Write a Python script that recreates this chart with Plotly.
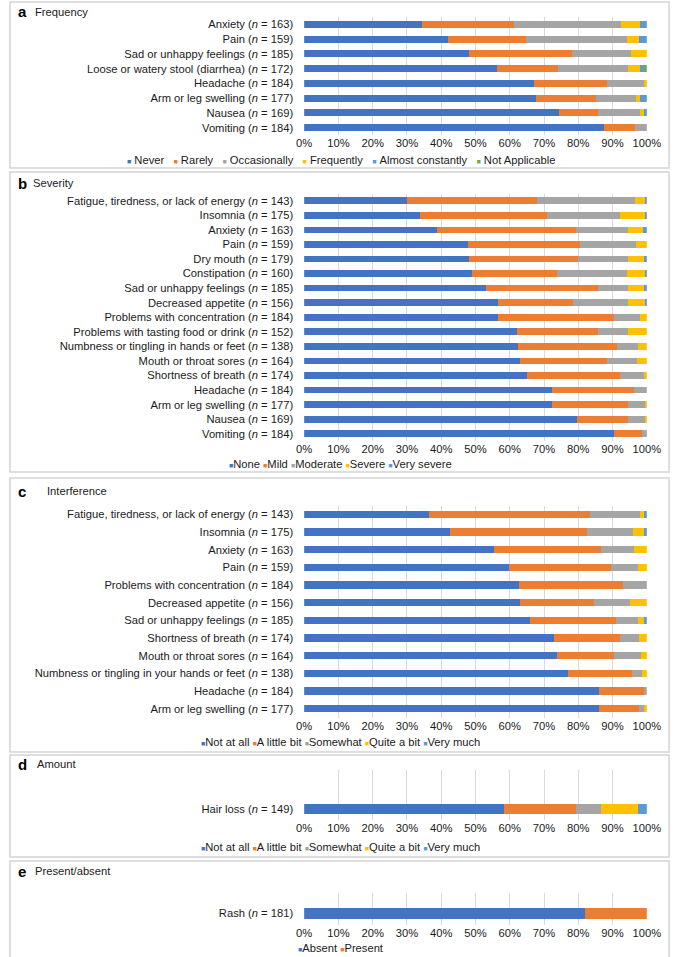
import plotly.graph_objects as go

W, H = 685, 957

# ---- data (percent of respondents) ----
freq_items = ["Anxiety (<i>n</i> = 163)", "Pain (<i>n</i> = 159)", "Sad or unhappy feelings (<i>n</i> = 185)",
              "Loose or watery stool (diarrhea) (<i>n</i> = 172)", "Headache (<i>n</i> = 184)",
              "Arm or leg swelling (<i>n</i> = 177)", "Nausea (<i>n</i> = 169)", "Vomiting (<i>n</i> = 184)"]
freq_levels = ["Never", "Rarely", "Occasionally", "Frequently", "Almost constantly", "Not Applicable"]
freq_never = [34.3, 42.0, 48.0, 56.3, 67.2, 67.7, 74.4, 87.4]
freq_rarely = [26.9, 22.7, 30.3, 17.9, 21.3, 17.5, 11.4, 9.2]
freq_occasionally = [31.4, 29.6, 17.2, 20.4, 10.8, 11.7, 12.2, 3.4]
freq_frequently = [5.4, 3.5, 4.5, 3.4, 0.7, 1.2, 1.2, 0]
freq_almost = [2.0, 2.2, 0, 1.2, 0, 1.9, 0.8, 0]
freq_na = [0, 0, 0, 0.8, 0, 0, 0, 0]

sev_items = ["Fatigue, tiredness, or lack of energy (<i>n</i> = 143)", "Insomnia (<i>n</i> = 175)",
             "Anxiety (<i>n</i> = 163)", "Pain (<i>n</i> = 159)", "Dry mouth (<i>n</i> = 179)",
             "Constipation (<i>n</i> = 160)", "Sad or unhappy feelings (<i>n</i> = 185)",
             "Decreased appetite (<i>n</i> = 156)", "Problems with concentration (<i>n</i> = 184)",
             "Problems with tasting food or drink (<i>n</i> = 152)",
             "Numbness or tingling in hands or feet (<i>n</i> = 138)", "Mouth or throat sores (<i>n</i> = 164)",
             "Shortness of breath (<i>n</i> = 174)", "Headache (<i>n</i> = 184)",
             "Arm or leg swelling (<i>n</i> = 177)", "Nausea (<i>n</i> = 169)", "Vomiting (<i>n</i> = 184)"]
sev_levels = ["None", "Mild", "Moderate", "Severe", "Very severe"]
sev_none = [30.0, 33.7, 38.7, 47.9, 48.0, 48.9, 53.0, 56.5, 56.7, 62.0, 62.5, 63.0, 65.1, 72.4, 72.4, 79.5, 90.3]
sev_mild = [37.9, 37.3, 40.6, 32.6, 32.0, 24.9, 32.7, 21.9, 33.6, 23.8, 28.9, 25.5, 27.0, 24.0, 22.2, 14.9, 8.3]
sev_moderate = [28.8, 21.3, 15.3, 16.4, 14.6, 20.3, 8.7, 16.0, 7.7, 8.6, 5.9, 8.6, 7.1, 3.6, 5.1, 5.3, 1.4]
sev_severe = [2.7, 7.4, 4.3, 3.1, 4.6, 5.5, 4.8, 5.2, 2.0, 5.6, 2.7, 2.9, 0.8, 0, 0.3, 0.3, 0]
sev_very = [0.6, 0.3, 1.1, 0, 0.8, 0.4, 0.8, 0.4, 0, 0, 0, 0, 0, 0, 0, 0, 0]

int_items = ["Fatigue, tiredness, or lack of energy (<i>n</i> = 143)", "Insomnia (<i>n</i> = 175)",
             "Anxiety (<i>n</i> = 163)", "Pain (<i>n</i> = 159)", "Problems with concentration (<i>n</i> = 184)",
             "Decreased appetite (<i>n</i> = 156)", "Sad or unhappy feelings (<i>n</i> = 185)",
             "Shortness of breath (<i>n</i> = 174)", "Mouth or throat sores (<i>n</i> = 164)",
             "Numbness or tingling in your hands or feet (<i>n</i> = 138)", "Headache (<i>n</i> = 184)",
             "Arm or leg swelling (<i>n</i> = 177)"]
int_levels = ["Not at all", "A little bit", "Somewhat", "Quite a bit", "Very much"]
int_not = [36.3, 42.7, 55.4, 59.7, 62.6, 63.0, 65.9, 73.0, 73.8, 76.9, 86.1, 86.1]
int_little = [47.0, 39.7, 31.3, 29.8, 30.4, 21.7, 25.0, 19.1, 16.5, 18.9, 13.1, 11.7]
int_somewhat = [14.7, 13.6, 9.7, 8.0, 7.0, 10.4, 6.6, 5.6, 7.9, 2.9, 0.8, 1.7]
int_quite = [1.3, 3.5, 3.6, 2.5, 0, 4.9, 2.0, 2.3, 1.8, 1.3, 0, 0.5]
int_very = [0.7, 0.5, 0, 0, 0, 0, 0.5, 0, 0, 0, 0, 0]

amt_items = ["Hair loss (<i>n</i> = 149)"]
amt_levels = ["Not at all", "A little bit", "Somewhat", "Quite a bit", "Very much"]
amt_values = [[58.3], [21.1], [7.2], [10.9], [2.5]]

pa_items = ["Rash (<i>n</i> = 181)"]
pa_levels = ["Absent", "Present"]
pa_values = [[82.0], [18.0]]

colors = ["#4472C4", "#ED7D31", "#A5A5A5", "#FFC000", "#5B9BD5", "#70AD47"]
FONT = "Arial, Liberation Sans, sans-serif"
TXT = "#1a1a1a"
FS = 11.2


def px(y):
    return 1 - y / H


fig = go.Figure()
layout = {}
annotations = []
shapes = []

panels = [
    # letter, title, items, levels, values, y-top, y-bottom, bar width, y-range, box, title y, legend y, legend sep, title x
    ("a", "Frequency", freq_items, freq_levels,
     [freq_never, freq_rarely, freq_occasionally, freq_frequently, freq_almost, freq_na],
     17.0, 135.0, 0.48, None, (2, 168), 12, 160, "\u00a0\u00a0\u00a0", 26),
    ("b", "Severity", sev_items, sev_levels,
     [sev_none, sev_mild, sev_moderate, sev_severe, sev_very],
     193.5, 441, 0.46, None, (172, 472), 183, 464, "\u00a0", 24),
    ("c", "Interference", int_items, int_levels,
     [int_not, int_little, int_somewhat, int_quite, int_very],
     505.5, 717.5, 0.40, None, (478, 752), 491, 742, "\u00a0", 38),
    ("d", "Amount", amt_items, amt_levels, amt_values,
     770, 820, 1.0, [1.1, -3.9], (755, 857), 764, 847, "\u00a0", 28),
    ("e", "Present/absent", pa_items, pa_levels, pa_values,
     893, 925, 1.0, [1.09, -1.82], (861, 958), 871, 948, "\u00a0", 26),
]

for i, (letter, title, items, levels, values, top, bot, bw, yr, box, ty, ly, sep, tx) in enumerate(panels, start=1):
    xa = "x" if i == 1 else f"x{i}"
    ya = "y" if i == 1 else f"y{i}"
    for lvl, vals, col in zip(levels, values, colors):
        fig.add_trace(go.Bar(
            y=items, x=vals, name=lvl, orientation="h", width=bw,
            marker=dict(color=col, line=dict(width=0)),
            xaxis=xa, yaxis=ya, showlegend=False,
            hovertemplate="%{y}<br>" + lvl + ": %{x:.1f}%<extra></extra>",
        ))
    layout[f"xaxis{i if i > 1 else ''}"] = dict(
        domain=[306 / W, 660 / W], anchor=ya, range=[0, 100], dtick=10, ticksuffix="%",
        showgrid=True, gridcolor="#d9d9d9", gridwidth=1, zeroline=False, showline=False,
        tickfont=dict(size=FS, color=TXT, family=FONT), fixedrange=True,
    )
    ydict = dict(
        domain=[px(bot), px(top)], anchor=xa, type="category",
        tickfont=dict(size=FS, color=TXT, family=FONT), showgrid=False,
        zeroline=False, showline=False, ticklabelstandoff=10, fixedrange=True,
    )
    if yr is None:
        ydict["autorange"] = "reversed"
    else:
        ydict["range"] = yr
    layout[f"yaxis{i if i > 1 else ''}"] = ydict

    # panel frame
    shapes.append(dict(type="rect", xref="paper", yref="paper",
                       x0=2 / W, x1=683 / W, y0=px(box[1]), y1=px(box[0]),
                       line=dict(color="#d4d4d4", width=1.5)))
    # panel title
    annotations.append(dict(text=f"<b>{letter}</b>", x=8 / W, y=px(ty), xref="paper", yref="paper",
                            xanchor="left", yanchor="middle", showarrow=False,
                            font=dict(size=15, color="#000", family=FONT)))
    annotations.append(dict(text=title, x=tx / W, y=px(ty), xref="paper", yref="paper",
                            xanchor="left", yanchor="middle", showarrow=False,
                            font=dict(size=FS, color=TXT, family=FONT)))
    # legend line
    parts = []
    for lvl, col in zip(levels, colors):
        parts.append(f"<span style='color:{col};font-size:7px'>\u25a0</span>" +
                     ("\u00a0" if len(sep) > 1 else "") + lvl)
    annotations.append(dict(text=sep.join(parts), x=344 / W, y=px(ly), xref="paper", yref="paper",
                            xanchor="center", yanchor="middle", showarrow=False,
                            font=dict(size=FS, color=TXT, family=FONT)))

fig.update_layout(
    width=W, height=H, margin=dict(l=0, r=0, t=0, b=0), autosize=False,
    paper_bgcolor="white", plot_bgcolor="white",
    barmode="stack", font=dict(family=FONT, size=FS, color=TXT),
    annotations=annotations, shapes=shapes, **layout,
)

# pin the plot to the top-left corner of the page, no body margin / scrollbars
pin = (
    "document.documentElement.style.overflow='hidden';"
    "document.body.style.margin='0';document.body.style.overflow='hidden';"
    "var gd=document.getElementById('{plot_id}');"
    "gd.style.position='absolute';gd.style.left='0px';gd.style.top='0px';"
    "Plotly.relayout(gd,{width:%d,height:%d});" % (W, H)
)
fig.write_html("out.html", config={"responsive": False, "displayModeBar": False}, post_script=pin)
